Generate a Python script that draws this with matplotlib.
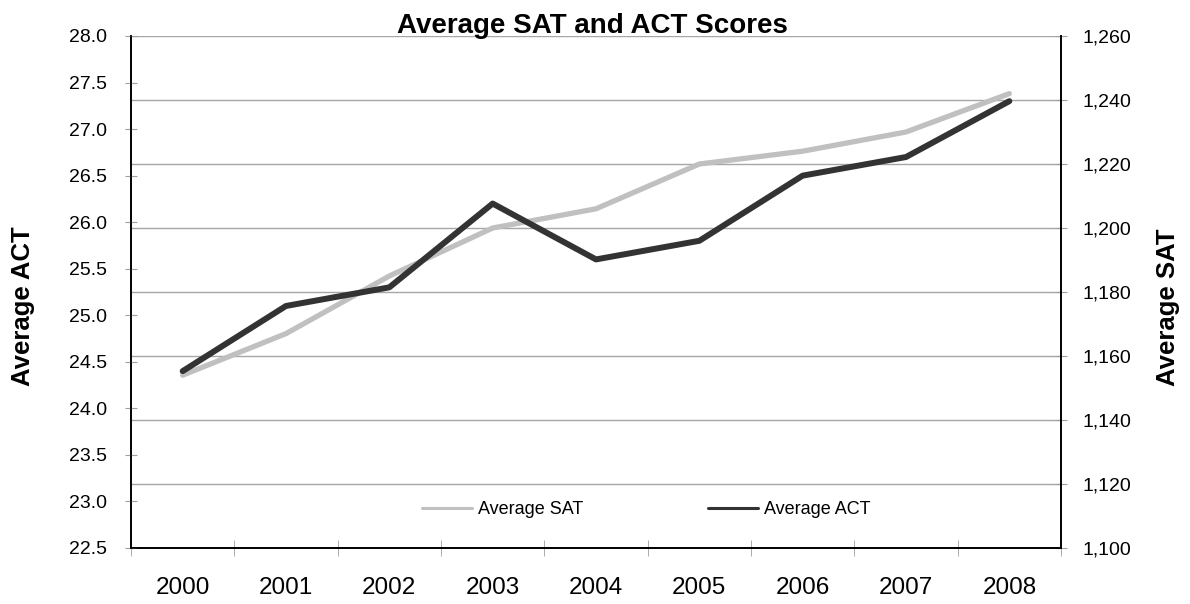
import matplotlib
matplotlib.use("Agg")
import matplotlib.pyplot as plt
from matplotlib.ticker import FuncFormatter, MultipleLocator, FixedLocator

plt.rcParams['font.family'] = ['Liberation Sans', 'DejaVu Sans']

# data
years = ['2000', '2001', '2002', '2003', '2004', '2005', '2006', '2007', '2008']
sat = [1154, 1167, 1185, 1200, 1206, 1220, 1224, 1230, 1242]
act = [24.4, 25.1, 25.3, 26.2, 25.6, 25.8, 26.5, 26.7, 27.3]

W, H = 1190, 604
fig = plt.figure(figsize=(W / 100, H / 100), dpi=100)

# SAT goes on the base axes (right side) so the ACT line is drawn over it
ax = fig.add_axes([131 / W, 1 - 548 / H, (1061 - 131) / W, (548 - 36) / H])
ax2 = ax.twinx()
ax.yaxis.tick_right()
ax2.yaxis.tick_left()

x = list(range(len(years)))
l1, = ax.plot(x, sat, color='#c0c0c0', lw=3.8, solid_capstyle='round',
              solid_joinstyle='round', label='Average SAT')
l2, = ax2.plot(x, act, color='#333333', lw=4.3, solid_capstyle='round',
               solid_joinstyle='round', label='Average ACT')

ax.set_xlim(-0.5, len(years) - 0.5)
ax.set_ylim(1100, 1260)
ax2.set_ylim(22.5, 28.0)

# right axis (SAT)
ax.yaxis.set_major_locator(MultipleLocator(20))
ax.yaxis.set_major_formatter(FuncFormatter(lambda v, p: f"{v:,.0f}"))
ax.grid(axis='y', color='#a6a6a6', lw=1)
ax.tick_params(axis='y', which='major', direction='inout', length=9,
               color='#a0a0a0', labelsize=14, pad=11)

# left axis (ACT)
ax2.yaxis.set_major_locator(MultipleLocator(0.5))
ax2.yaxis.set_major_formatter(FuncFormatter(lambda v, p: f"{v:.1f}"))
ax2.tick_params(axis='y', which='major', direction='inout', length=9,
                color='#a0a0a0', labelsize=14, pad=13)

# category axis: labels at centers, tick marks at boundaries
ax.set_xticks(x)
ax.set_xticklabels(years)
ax.xaxis.set_minor_locator(FixedLocator([i - 0.5 for i in range(len(years) + 1)]))
ax.tick_params(axis='x', which='major', length=0, labelsize=17.5, pad=21)
ax.tick_params(axis='x', which='minor', direction='inout', length=11,
               color='#a0a0a0')

for a in (ax, ax2):
    a.spines['top'].set_visible(False)
    for s in ('left', 'right', 'bottom'):
        a.spines[s].set_color('black')
        a.spines[s].set_linewidth(1.2)

fig.text(592 / W, 1 - 33 / H, 'Average SAT and ACT Scores', ha='center',
         va='baseline', fontsize=20, fontweight='bold')
fig.text(23 / W, 1 - 306 / H, 'Average ACT', rotation=90, ha='center',
         va='center', fontsize=18.5, fontweight='bold')
fig.text(1168 / W, 1 - 307 / H, 'Average SAT', rotation=90, ha='center',
         va='center', fontsize=18.5, fontweight='bold')

leg = fig.legend([l1, l2], ['Average SAT', 'Average ACT'], loc='center',
                 bbox_to_anchor=(646 / W, 1 - 510 / H), ncol=2, frameon=False,
                 fontsize=13, handlelength=2.8, handletextpad=0.3,
                 columnspacing=6.9)
for h in leg.get_lines():
    h.set_linewidth(2.2)

fig.savefig('out.png', dpi=100)
